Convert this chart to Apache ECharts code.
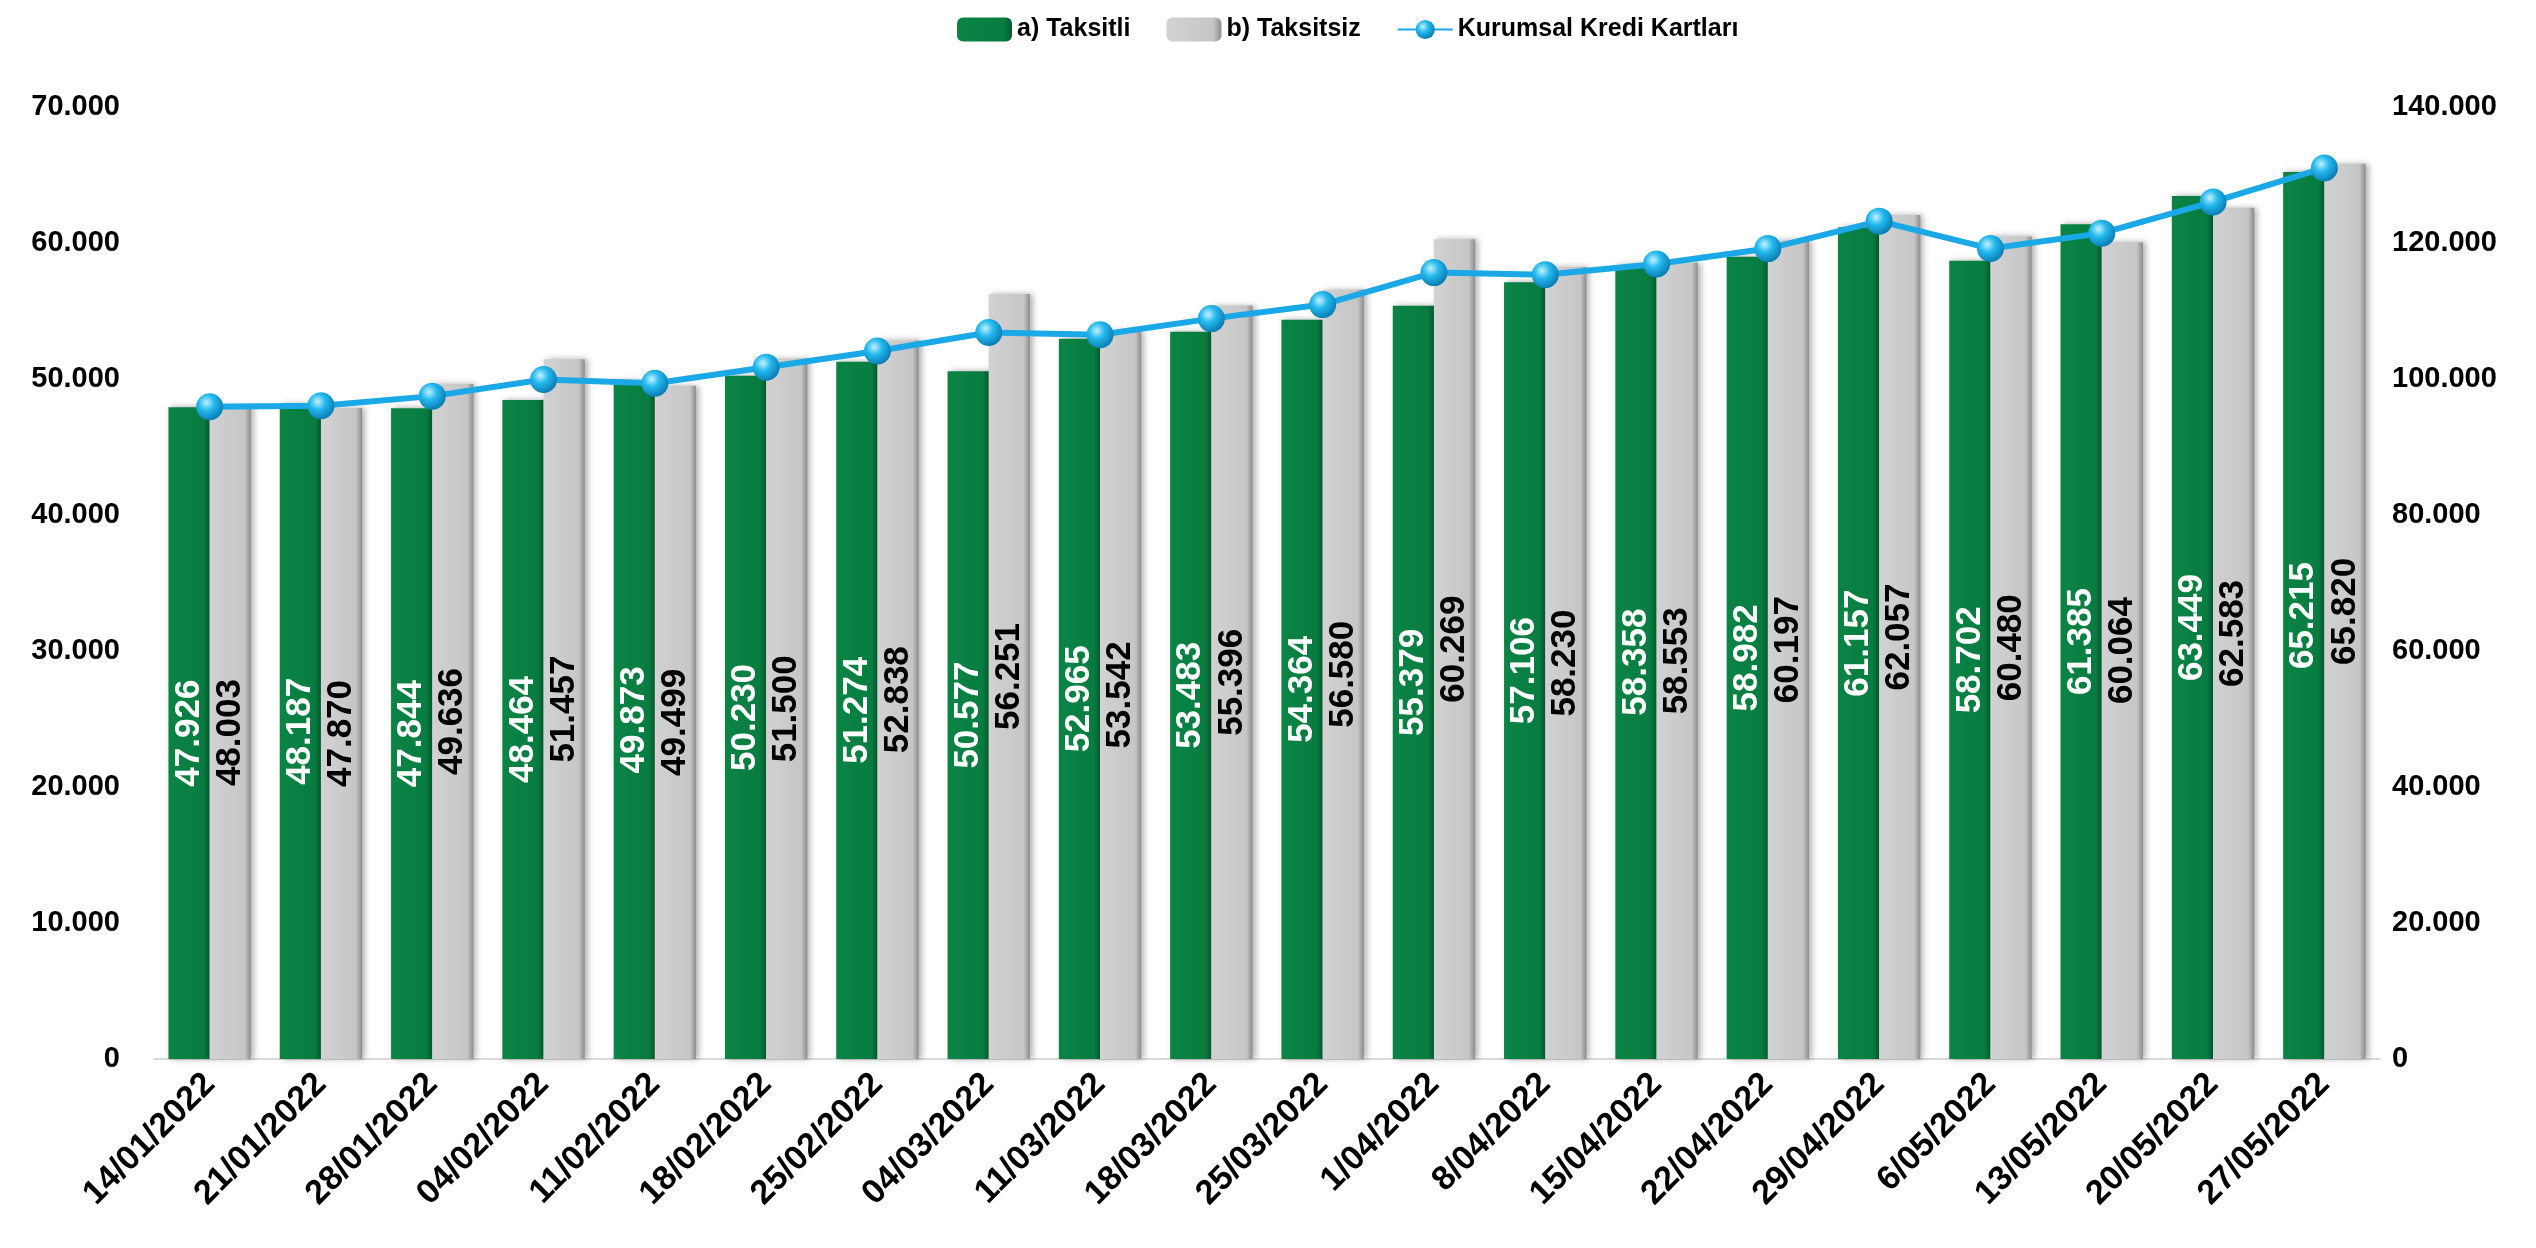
<!DOCTYPE html>
<html>
<head>
<meta charset="utf-8">
<script src="https://cdn.jsdelivr.net/npm/echarts@6/dist/echarts.min.js"></script>
<style>
  html, body { margin: 0; padding: 0; background: #fff; }
  #chart { width: 2536px; height: 1248px; }
</style>
</head>
<body>
<div id="chart"></div>
<script>
const dates = ['14/01/2022', '21/01/2022', '28/01/2022', '04/02/2022', '11/02/2022', '18/02/2022',
  '25/02/2022', '04/03/2022', '11/03/2022', '18/03/2022', '25/03/2022', '1/04/2022', '8/04/2022',
  '15/04/2022', '22/04/2022', '29/04/2022', '6/05/2022', '13/05/2022', '20/05/2022', '27/05/2022'];
const taksitli = [47926, 48187, 47844, 48464, 49873, 50230, 51274, 50577, 52965, 53483,
  54364, 55379, 57106, 58358, 58982, 61157, 58702, 61385, 63449, 65215];
const taksitsiz = [48003, 47870, 49636, 51457, 49499, 51500, 52838, 56251, 53542, 55396,
  56580, 60269, 58230, 58553, 60197, 62057, 60480, 60064, 62583, 65820];
const kurumsal = [95929, 96057, 97480, 99921, 99372, 101730, 104112, 106828, 106507, 108879,
  110944, 115648, 115336, 116911, 119179, 123214, 119182, 121449, 126032, 131035];

const FONT = '"Liberation Sans", Arial, sans-serif';

// 12345 -> "12.345"
function fmt(v) {
  return String(v).replace(/\B(?=(\d{3})+(?!\d))/g, '.');
}

const chart = echarts.init(document.getElementById('chart'));

const option = {
  backgroundColor: '#fff',
  animation: false,
  textStyle: { fontFamily: FONT },
  legend: {
    left: 952,
    top: 12,
    itemWidth: 55,
    itemHeight: 24,
    itemGap: 36,
    textStyle: { fontSize: 25, fontWeight: 'bold', color: '#000', fontFamily: FONT },
    data: ['a) Taksitli', 'b) Taksitsiz', 'Kurumsal Kredi Kartları']
  },
  grid: { left: 154, right: 156, top: 107, bottom: 189, containLabel: false },
  xAxis: {
    type: 'category',
    data: dates,
    axisTick: { show: false },
    axisLine: { lineStyle: { color: '#d9d9d9', width: 2 } },
    axisLabel: {
      interval: 0,
      rotate: 45,
      margin: 20,
      fontSize: 34,
      fontWeight: 'bold',
      color: '#000',
      fontFamily: FONT
    }
  },
  yAxis: [
    {
      type: 'value',
      min: 0,
      max: 70000,
      interval: 10000,
      splitLine: { show: false },
      axisLine: { show: false },
      axisLabel: {
        margin: 34,
        fontSize: 29,
        fontWeight: 'bold',
        color: '#000',
        fontFamily: FONT,
        formatter: fmt
      }
    },
    {
      type: 'value',
      min: 0,
      max: 140000,
      interval: 20000,
      splitLine: { show: false },
      axisLine: { show: false },
      axisLabel: {
        margin: 12,
        fontSize: 29,
        fontWeight: 'bold',
        color: '#000',
        fontFamily: FONT,
        formatter: fmt
      }
    }
  ],
  series: [
    {
      name: 'a) Taksitli',
      type: 'bar',
      data: taksitli,
      barGap: '0%',
      barCategoryGap: '26%',
      itemStyle: {
        color: {
          type: 'linear', x: 0, y: 0, x2: 1, y2: 0,
          colorStops: [
            { offset: 0, color: '#0a8445' },
            { offset: 0.85, color: '#087c40' },
            { offset: 1, color: '#045a2d' }
          ]
        },
        shadowColor: 'rgba(0,0,0,0.35)',
        shadowBlur: 6,
        shadowOffsetX: 3
      },
      label: {
        show: true,
        position: 'inside',
        rotate: 90,
        fontSize: 35,
        fontWeight: 'bold',
        color: '#fff',
        fontFamily: FONT,
        formatter: p => fmt(p.value)
      }
    },
    {
      name: 'b) Taksitsiz',
      type: 'bar',
      data: taksitsiz,
      itemStyle: {
        color: {
          type: 'linear', x: 0, y: 0, x2: 1, y2: 0,
          colorStops: [
            { offset: 0, color: '#d2d2d2' },
            { offset: 0.85, color: '#c6c6c6' },
            { offset: 1, color: '#8c8c8c' }
          ]
        },
        shadowColor: 'rgba(0,0,0,0.3)',
        shadowBlur: 6,
        shadowOffsetX: 3
      },
      label: {
        show: true,
        position: 'inside',
        rotate: 90,
        fontSize: 35,
        fontWeight: 'bold',
        color: '#000',
        fontFamily: FONT,
        formatter: p => fmt(p.value)
      }
    },
    {
      name: 'Kurumsal Kredi Kartları',
      type: 'line',
      yAxisIndex: 1,
      data: kurumsal,
      symbol: 'circle',
      symbolSize: 27,
      lineStyle: { color: '#1aa9e6', width: 6 },
      itemStyle: {
        color: {
          type: 'radial', x: 0.38, y: 0.35, r: 0.65,
          colorStops: [
            { offset: 0, color: '#c4f1ff' },
            { offset: 0.45, color: '#24b9ee' },
            { offset: 1, color: '#0b7fb6' }
          ]
        },
        borderWidth: 0
      },
      z: 5
    }
  ]
};

chart.setOption(option);
</script>
</body>
</html>
